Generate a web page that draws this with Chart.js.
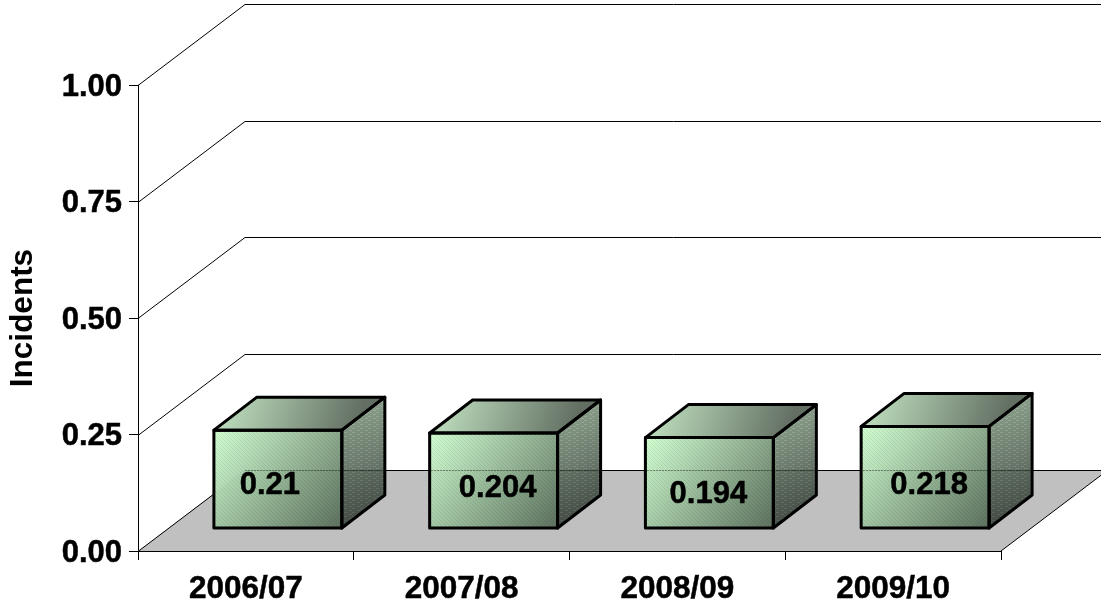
<!DOCTYPE html>
<html>
<head>
<meta charset="utf-8">
<title>Incidents</title>
<script src="https://cdn.jsdelivr.net/npm/chart.js@4"></script>
<style>
    html, body { margin: 0; padding: 0; background: #ffffff; }
    canvas { display: block; }
</style>
</head>
<body>
<canvas id="incidentsChart" width="1101" height="607"></canvas>
<script>
// values per season
const seasons = ['2006/07', '2007/08', '2008/09', '2009/10'];
const incidents = [0.21, 0.204, 0.194, 0.218];
const valueLabels = ['0.21', '0.204', '0.194', '0.218'];
const yTicks = [0, 0.25, 0.5, 0.75, 1];

// depth of the fake 3D room, in px
const ROOM_DX = 107;
const ROOM_DY = 81;
// where the boxes stand on the floor and how deep they are
const BOX_SHIFT_X = 32;
const BOX_SHIFT_Y = 23;
const BOX_DX = 43;
const BOX_DY = 33;
// the value labels are not quite centred on the front faces
const labelNudgeX = [-8, 4, -1, 4];
const labelNudgeY = [6, 8, 12, 8];

function line(ctx, x1, y1, x2, y2) {
    ctx.beginPath();
    ctx.moveTo(x1, y1);
    ctx.lineTo(x2, y2);
    ctx.stroke();
}

function tracePolygon(ctx, pts) {
    ctx.beginPath();
    pts.forEach((p, i) => i ? ctx.lineTo(p[0], p[1]) : ctx.moveTo(p[0], p[1]));
    ctx.closePath();
}

function polygon(ctx, pts, fill) {
    tracePolygon(ctx, pts);
    ctx.fillStyle = fill;
    ctx.fill();
}

function gradient(ctx, x1, y1, x2, y2, from, to) {
    const g = ctx.createLinearGradient(x1, y1, x2, y2);
    g.addColorStop(0, from);
    g.addColorStop(1, to);
    return g;
}

// small repeating tile for the dithered look of the shaded faces
function ditherTile(ctx, rows, dark, light) {
    const tile = document.createElement('canvas');
    tile.width = rows[0].length;
    tile.height = rows.length;
    const t = tile.getContext('2d');
    rows.forEach((row, y) => {
        for (let x = 0; x < row.length; x++) {
            if (row[x] === '#') {
                t.fillStyle = 'rgba(0,0,0,' + dark + ')';
                t.fillRect(x, y, 1, 1);
            } else if (row[x] === '+') {
                t.fillStyle = 'rgba(255,255,255,' + light + ')';
                t.fillRect(x, y, 1, 1);
            }
        }
    });
    return ctx.createPattern(tile, 'repeat');
}

// back wall, left wall and floor
const roomPlugin = {
    id: 'room',
    beforeDatasetsDraw(chart) {
        const { ctx, chartArea, scales } = chart;
        const y0 = scales.y.getPixelForValue(0);
        const left = chartArea.left;
        const right = chartArea.right;
        ctx.save();
        polygon(ctx, [
            [left, y0],
            [left + ROOM_DX, y0 - ROOM_DY],
            [right + ROOM_DX, y0 - ROOM_DY],
            [right, y0]
        ], '#c0c0c0');
        ctx.strokeStyle = '#000000';
        ctx.lineWidth = 1;
        yTicks.forEach(v => {
            const y = Math.round(scales.y.getPixelForValue(v)) + 0.5;
            line(ctx, left, y, left + ROOM_DX, y - ROOM_DY);
            line(ctx, left + ROOM_DX, y - ROOM_DY, right + ROOM_DX, y - ROOM_DY);
        });
        line(ctx, right, y0, right + ROOM_DX, y0 - ROOM_DY);
        ctx.restore();
    },
    afterDatasetsDraw(chart) {
        const { ctx, scales, chartArea } = chart;
        const meta = chart.getDatasetMeta(0);
        const y0 = scales.y.getPixelForValue(0);
        const diagTile = ditherTile(ctx, ['#...', '.#..', '..#.', '...#'], 0.07, 0);
        const sideTile = ditherTile(ctx, ['+++#####', '########', '#####+++', '########'], 0.08, 0.06);
        ctx.save();
        meta.data.forEach((bar, i) => {
            const cx = bar.x + BOX_SHIFT_X;
            const w = bar.width;
            const x1 = cx - w / 2;
            const x2 = cx + w / 2;
            const yBottom = y0 - BOX_SHIFT_Y;
            const yTop = scales.y.getPixelForValue(incidents[i]) - BOX_SHIFT_Y;

            const front = [[x1, yTop], [x2, yTop], [x2, yBottom], [x1, yBottom]];
            const top = [[x1, yTop], [x1 + BOX_DX, yTop - BOX_DY], [x2 + BOX_DX, yTop - BOX_DY], [x2, yTop]];
            const side = [[x2, yTop], [x2 + BOX_DX, yTop - BOX_DY], [x2 + BOX_DX, yBottom - BOX_DY], [x2, yBottom]];

            polygon(ctx, front, gradient(ctx, x1, yTop, x2, yBottom, 'rgba(206,255,206,0.92)', 'rgba(84,106,86,0.92)'));
            polygon(ctx, front, diagTile);
            polygon(ctx, top, gradient(ctx, x1 + 20, yTop - BOX_DY, x2 + 10, yTop + 8, 'rgba(182,214,182,0.96)', 'rgba(92,105,92,0.96)'));
            polygon(ctx, side, gradient(ctx, x2, yTop - 20, x2 + BOX_DX, yBottom - 10, 'rgba(134,160,134,0.85)', 'rgba(46,56,48,0.85)'));
            polygon(ctx, side, sideTile);

            // the floor edges show faintly through the translucent box
            ctx.save();
            ctx.beginPath();
            [front, side].forEach(pts => {
                pts.forEach((p, k) => k ? ctx.lineTo(p[0], p[1]) : ctx.moveTo(p[0], p[1]));
                ctx.closePath();
            });
            ctx.clip();
            ctx.lineWidth = 1;
            ctx.strokeStyle = 'rgba(0,0,0,0.35)';
            ctx.setLineDash([2, 1]);
            const floorBack = Math.round(y0) - ROOM_DY + 0.5;
            line(ctx, chartArea.left + ROOM_DX, floorBack, chartArea.right + ROOM_DX, floorBack);
            ctx.strokeStyle = 'rgba(255,255,255,0.3)';
            line(ctx, chartArea.left, y0, chartArea.left + ROOM_DX, floorBack);
            ctx.restore();

            ctx.strokeStyle = '#000000';
            ctx.lineWidth = 3;
            ctx.lineJoin = 'round';
            [front, top, side].forEach(pts => {
                tracePolygon(ctx, pts);
                ctx.stroke();
            });

            ctx.fillStyle = '#000000';
            ctx.font = 'bold 31px "Liberation Sans"';
            ctx.textAlign = 'center';
            ctx.textBaseline = 'middle';
            const lx = cx + labelNudgeX[i];
            const ly = (yTop + yBottom) / 2 + labelNudgeY[i];
            ctx.lineWidth = 0.5;
            ctx.fillText(valueLabels[i], lx, ly);
            ctx.strokeText(valueLabels[i], lx, ly);
        });
        ctx.restore();
    }
};

const ctx = document.getElementById('incidentsChart').getContext('2d');
new Chart(ctx, {
    type: 'bar',
    data: {
        labels: seasons,
        datasets: [{
            label: 'Incidents',
            data: incidents,
            // the boxes are painted by the room plugin
            backgroundColor: 'rgba(0,0,0,0)',
            borderWidth: 0,
            categoryPercentage: 0.593,
            barPercentage: 1
        }]
    },
    plugins: [roomPlugin],
    options: {
        responsive: false,
        animation: false,
        layout: { padding: { top: 85, right: 100, left: 0, bottom: 0 } },
        plugins: {
            legend: { display: false },
            tooltip: { enabled: false }
        },
        scales: {
            x: {
                afterFit(scale) { scale.height = 56; },
                border: { color: '#000000', width: 1 },
                grid: { drawOnChartArea: false, color: '#000000', tickLength: 9 },
                ticks: {
                    color: '#000000',
                    padding: 10,
                    maxRotation: 0,
                    textStrokeColor: '#000000',
                    textStrokeWidth: 0.5,
                    font: { family: 'Liberation Sans', size: 31.5, weight: 'bold' }
                }
            },
            y: {
                min: 0,
                max: 1,
                afterFit(scale) { scale.width = 138; },
                afterBuildTicks(scale) { scale.ticks = yTicks.map(v => ({ value: v })); },
                border: { color: '#000000', width: 1 },
                grid: { drawOnChartArea: false, color: '#000000', tickLength: 9 },
                ticks: {
                    color: '#000000',
                    padding: 7,
                    textStrokeColor: '#000000',
                    textStrokeWidth: 0.5,
                    // empty first line plus a small line height moves the text 2px down
                    callback: v => ['', v.toFixed(2)],
                    font: { family: 'Liberation Sans', size: 31, weight: 'bold', lineHeight: '4px' }
                },
                title: {
                    display: true,
                    text: 'Incidents',
                    color: '#000000',
                    padding: { top: 4, bottom: 0 },
                    font: { family: 'Liberation Sans', size: 31.5, weight: 'bold' }
                }
            }
        }
    }
});
</script>
</body>
</html>
